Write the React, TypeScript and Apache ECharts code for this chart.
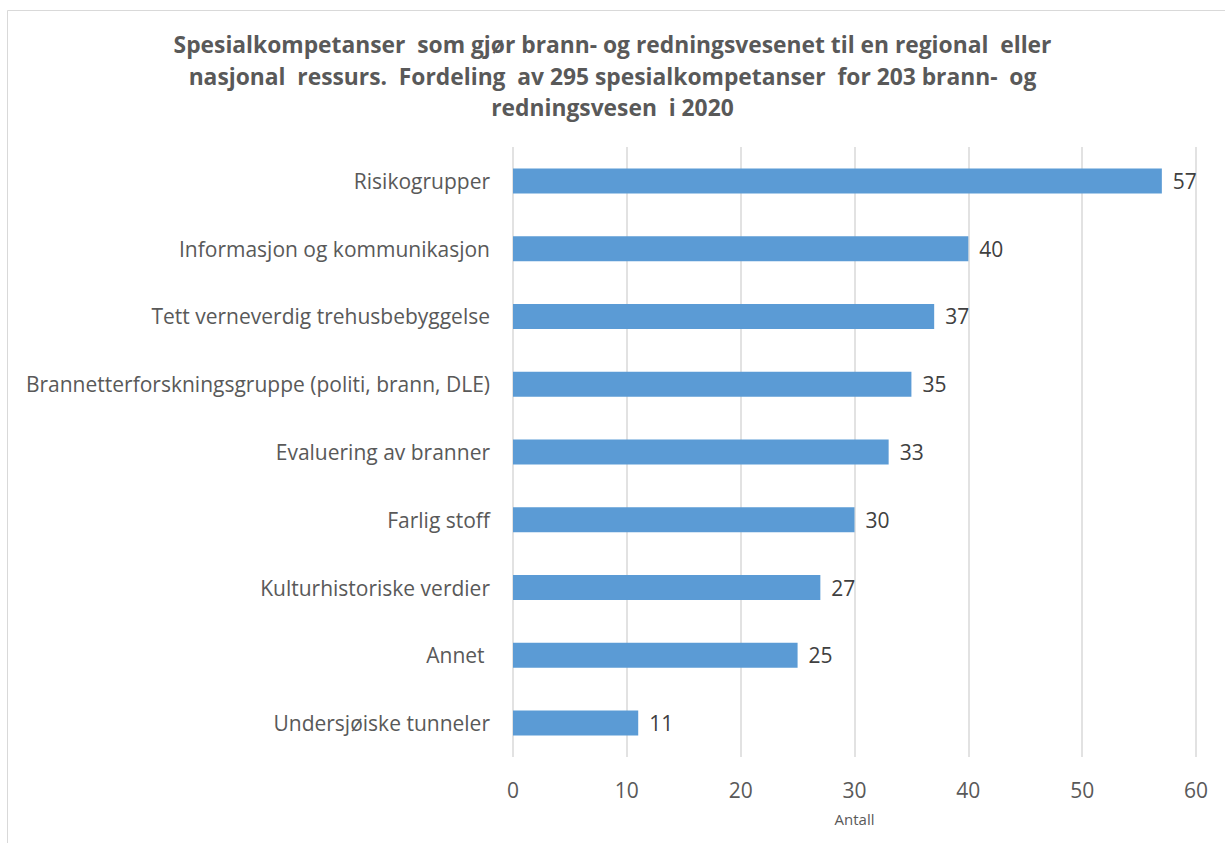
import React, { useEffect, useRef } from "react";
import * as echarts from "echarts";

const categories = [
  "Risikogrupper",
  "Informasjon og kommunikasjon",
  "Tett verneverdig trehusbebyggelse",
  "Brannetterforskningsgruppe (politi, brann, DLE)",
  "Evaluering av branner",
  "Farlig stoff",
  "Kulturhistoriske verdier",
  "Annet ",
  "Undersjøiske tunneler",
];
const values = [57, 40, 37, 35, 33, 30, 27, 25, 11];
const titleLines = [
  "Spesialkompetanser  som gjør brann- og redningsvesenet til en regional  eller",
  "nasjonal  ressurs.  Fordeling  av 295 spesialkompetanser  for 203 brann-  og",
  "redningsvesen  i 2020",
];
const axisName = "Antall";

const FONT = "'Open Sans', sans-serif";

export default function App() {
  const ref = useRef<HTMLDivElement>(null);
  useEffect(() => {
    if (!ref.current) return;
    const chart = echarts.init(ref.current, null, { renderer: "svg" });
    chart.setOption({
      animation: false,
      backgroundColor: "#ffffff",
      title: {
        text: titleLines.join("\n"),
        left: "center",
        top: 29,
        padding: [0, 0, 0, 8],
        textStyle: {
          fontFamily: FONT,
          fontWeight: "bold",
          fontSize: 22.8,
          lineHeight: 31.5,
          color: "#595959",
        },
      },
      graphic: [
        {
          type: "rect",
          shape: { x: 7.5, y: 10.5, width: 1300, height: 900 },
          style: { fill: "none", stroke: "#d9d9d9", lineWidth: 1 },
          silent: true,
        },
      ],
      grid: { left: 513, right: 29, top: 147, bottom: 86 },
      xAxis: {
        type: "value",
        min: 0,
        max: 60,
        interval: 10,
        name: axisName,
        nameLocation: "middle",
        nameGap: 54,
        nameTextStyle: { fontFamily: FONT, fontSize: 15, color: "#595959" },
        axisLine: { show: false },
        axisTick: { show: false },
        axisLabel: { fontFamily: FONT, fontSize: 21, color: "#595959", margin: 22 },
        splitLine: { show: true, lineStyle: { color: "#d9d9d9", width: 1.5 } },
      },
      yAxis: {
        type: "category",
        data: categories,
        inverse: true,
        axisLine: { show: false },
        axisTick: { show: false },
        axisLabel: { fontFamily: FONT, fontSize: 21, color: "#595959", margin: 23 },
        splitLine: { show: false },
      },
      series: [
        {
          type: "bar",
          data: values,
          barWidth: 25,
          itemStyle: { color: "#5b9bd5" },
          label: {
            show: true,
            position: "right",
            distance: 11,
            fontFamily: FONT,
            fontSize: 21,
            color: "#404040",
          },
        },
      ],
    });
    return () => chart.dispose();
  }, []);
  return (
    <div
      ref={ref}
      style={{ position: "fixed", left: 0, top: 0, width: 1225, height: 843 }}
    />
  );
}
